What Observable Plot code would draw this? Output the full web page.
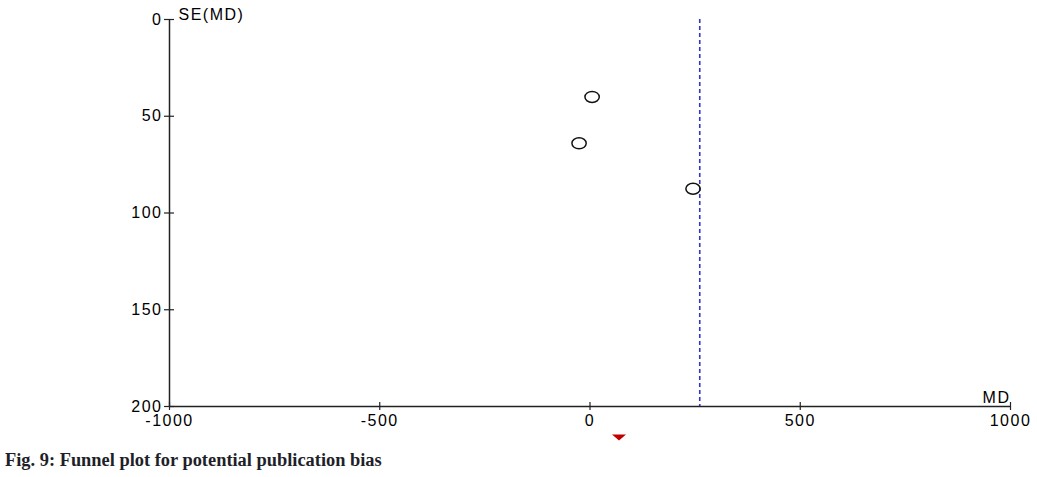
<!DOCTYPE html>
<html>
<head>
<meta charset="utf-8">
<script src="https://cdn.jsdelivr.net/npm/d3@7"></script>
<script src="https://cdn.jsdelivr.net/npm/@observablehq/plot@0.6"></script>
<style>
  html, body { margin: 0; padding: 0; background: #fff; }
  #chart svg { display: block; }
  #caption { font-family: "Liberation Serif", "Times New Roman", serif; font-weight: bold; font-size: 18.4px; line-height: 20px; color: #1f1f2a; margin: 5px 0 0 5px; }
</style>
</head>
<body>
<div id="chart"></div>
<div id="caption">Fig. 9: Funnel plot for potential publication bias</div>
<script>
// Study estimates (mean difference) and their standard errors
const studyMD = [5, -26, 245];
const studySE = [40, 64, 87.5];
// Fixed-effect overall estimate (dashed line) and pooled marker (red triangle)
const overallMD = 261;
const pooledMD = 69;
// Axis ticks
const xTicks = [-1000, -500, 0, 500, 1000];
const yTicks = [0, 50, 100, 150, 200];

const studies = studyMD.map((md, i) => ({md, se: studySE[i]}));

const ellipse = {
  draw(ctx, size) {
    const r = Math.sqrt(size / Math.PI);
    const rx = r * 1.3, ry = r, k = 0.5523;
    ctx.moveTo(rx, 0);
    ctx.bezierCurveTo(rx, ry * k, rx * k, ry, 0, ry);
    ctx.bezierCurveTo(-rx * k, ry, -rx, ry * k, -rx, 0);
    ctx.bezierCurveTo(-rx, -ry * k, -rx * k, -ry, 0, -ry);
    ctx.bezierCurveTo(rx * k, -ry, rx, -ry * k, rx, 0);
    ctx.closePath();
  }
};
const flatTriangle = {
  draw(ctx, size) {
    const r = Math.sqrt(size / Math.PI);
    ctx.moveTo(-r * 1.4, -r * 0.6);
    ctx.lineTo(r * 1.4, -r * 0.6);
    ctx.lineTo(0, r * 0.6);
    ctx.closePath();
  }
};

const font = "'Liberation Sans', Arial, sans-serif";
const fmt = d => String(d);

const chart = Plot.plot({
  width: 1037,
  height: 445,
  marginLeft: 169,
  marginRight: 27,
  marginTop: 19,
  marginBottom: 39,
  style: {fontFamily: font, fontSize: "16px", letterSpacing: "1.5px", color: "#000", background: "#fff", overflow: "visible"},
  x: {domain: [-1000, 1000]},
  y: {domain: [0, 200], reverse: true},
  marks: [
    Plot.ruleX([overallMD], {y1: 0, y2: 200, stroke: "#3434c8", strokeWidth: 1.6, strokeDasharray: "4,3"}),
    Plot.ruleY([200], {x1: -1000, x2: 1000, stroke: "#222", strokeWidth: 1.5}),
    Plot.ruleX([-1000], {y1: 0, y2: 200, stroke: "#222", strokeWidth: 1.5}),
    Plot.axisX({ticks: xTicks, tickFormat: fmt, tickSize: 4, tickPadding: 4, stroke: "#222", strokeWidth: 1.2, fontSize: 16, fill: "#000", label: null}),
    Plot.axisX({ticks: xTicks, tickSize: -4, text: null, stroke: "#222", strokeWidth: 1.2, label: null}),
    Plot.axisY({ticks: yTicks, tickFormat: fmt, tickSize: 5, tickPadding: 2, stroke: "#222", strokeWidth: 1.2, fontSize: 16, fill: "#000", label: null}),
    Plot.axisY({ticks: yTicks, tickSize: -5, text: null, stroke: "#222", strokeWidth: 1.2, label: null}),
    Plot.text(["SE(MD)"], {frameAnchor: "top-left", dx: 9, dy: -5, textAnchor: "start", lineAnchor: "middle", fontSize: 16, fill: "#000"}),
    Plot.text(["MD"], {x: 1000, y: 200, dy: -9, textAnchor: "end", fontSize: 16, fill: "#000"}),
    Plot.dot(studies, {x: "md", y: "se", symbol: ellipse, r: 5.5, stroke: "#111", strokeWidth: 1.5, fill: "none"}),
    Plot.dot([pooledMD], {x: d => d, y: 200, dy: 31, symbol: flatTriangle, r: 5, fill: "#c00000", stroke: "none"})
  ]
});
document.getElementById("chart").appendChild(chart);
</script>
</body>
</html>
